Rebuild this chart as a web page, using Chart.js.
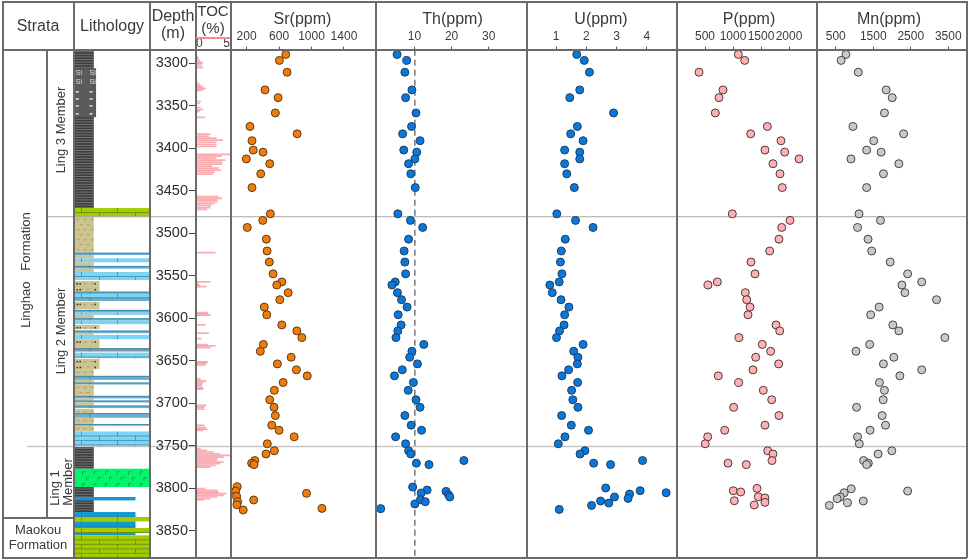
<!DOCTYPE html>
<html>
<head>
<meta charset="utf-8">
<script src="https://cdn.jsdelivr.net/npm/chart.js@4/dist/chart.umd.min.js"></script>
<style>
  html, body { margin: 0; padding: 0; background: #fff; }
  #page { position: relative; width: 969px; height: 560px; overflow: hidden; font-family: "Liberation Sans", Arial, sans-serif; color: #3a3a3a; }
  canvas { position: absolute; top: 0; }
  .rule { position: absolute; background: #6a6a6a; }
  .txt { position: absolute; white-space: nowrap; transform: translate(-50%, -50%); text-align: center; }
  .rot { transform: translate(-50%, -50%) rotate(-90deg); }
  .h16 { font-size: 16px; line-height: 17px; }
  .h13 { font-size: 13px; line-height: 15px; }
</style>
</head>
<body>
<div id="page">
  <canvas id="lith" style="left:0" width="150" height="560"></canvas>
  <canvas id="toc" style="left:150px" width="80" height="560"></canvas>
  <canvas id="sr" style="left:230px" width="146" height="560"></canvas>
  <canvas id="th" style="left:376px" width="150" height="560"></canvas>
  <canvas id="u" style="left:526px" width="151" height="560"></canvas>
  <canvas id="p" style="left:677px" width="140" height="560"></canvas>
  <canvas id="mn" style="left:817px" width="150" height="560"></canvas>

  <!-- frame -->
  <div class="rule" style="left:2px;top:1px;width:965px;height:1.5px"></div>
  <div class="rule" style="left:2px;top:49px;width:965px;height:1.5px"></div>
  <div class="rule" style="left:2px;top:557px;width:965px;height:1.5px"></div>
  <div class="rule" style="left:2px;top:517px;width:71px;height:1.5px"></div>
  <div class="rule" style="left:2px;top:1px;width:1.5px;height:557px"></div>
  <div class="rule" style="left:46px;top:50px;width:1.5px;height:467px"></div>
  <div class="rule" style="left:73px;top:1px;width:1.5px;height:557px"></div>
  <div class="rule" style="left:149px;top:1px;width:1.5px;height:557px"></div>
  <div class="rule" style="left:195px;top:1px;width:1.5px;height:557px"></div>
  <div class="rule" style="left:230px;top:1px;width:1.5px;height:557px"></div>
  <div class="rule" style="left:375px;top:1px;width:1.5px;height:557px"></div>
  <div class="rule" style="left:526px;top:1px;width:1.5px;height:557px"></div>
  <div class="rule" style="left:676px;top:1px;width:1.5px;height:557px"></div>
  <div class="rule" style="left:816px;top:1px;width:1.5px;height:557px"></div>
  <div class="rule" style="left:966px;top:1px;width:1.5px;height:557px"></div>
  <div style="position:absolute;left:196px;top:37px;width:34px;height:1.5px;background:#f58a92"></div>

  <!-- headers -->
  <div class="txt h16" style="left:38px;top:25px">Strata</div>
  <div class="txt h16" style="left:112px;top:25px">Lithology</div>
  <div class="txt h16" style="left:173px;top:24px">Depth<br>(m)</div>
  <div class="txt h16" style="left:213px;top:19px;font-size:15px">TOC<br>(%)</div>
  <div class="txt h16" style="left:302.5px;top:17.5px">Sr(ppm)</div>
  <div class="txt h16" style="left:452.5px;top:17.5px">Th(ppm)</div>
  <div class="txt h16" style="left:601px;top:17.5px">U(ppm)</div>
  <div class="txt h16" style="left:749px;top:17.5px">P(ppm)</div>
  <div class="txt h16" style="left:889px;top:17.5px">Mn(ppm)</div>

  <!-- strata -->
  <div class="txt h13 rot" style="left:25px;top:270px">Linghao&nbsp;&nbsp;&nbsp;Formation</div>
  <div class="txt h13 rot" style="left:60px;top:130px">Ling 3 Member</div>
  <div class="txt h13 rot" style="left:60px;top:331px">Ling 2 Member</div>
  <div class="txt h13 rot" style="left:54px;top:488px">Ling 1</div>
  <div class="txt h13 rot" style="left:67px;top:482px">Member</div>
  <div class="txt h13" style="left:38px;top:537px;line-height:15px">Maokou<br>Formation</div>
</div>

<script>
// depth axis
const depthMin = 3284.1
const depthMax = 3881.7
const depthTicks = [3300, 3350, 3400, 3450, 3500, 3550, 3600, 3650, 3700, 3750, 3800, 3850]
const memberBounds = [3480.6, 3750.8]

// samples above 3775 m share depths across the columns
const depthUpper = [3289.7, 3296.7, 3310.6, 3331.4, 3340.5, 3358.5, 3374.4, 3383.1, 3391.2, 3402.2, 3404.6, 3412.6, 3418.2, 3430.1, 3446.3, 3477.2, 3484.9, 3493.2, 3507, 3520.9, 3533.9, 3547.8, 3557.3, 3560.9, 3569.9, 3578.2, 3586.9, 3595.9, 3607.9, 3614.9, 3622.8, 3630.8, 3638.9, 3645.9, 3653.7, 3660.7, 3667.8, 3675.6, 3684.8, 3695.9, 3704.8, 3714.5, 3725.8, 3731.8, 3739.5, 3747.7, 3755.9, 3759.7, 3767.4, 3770.5, 3772.2]

const srUpper = [683, 604, 699, 427, 588, 554, 241, 823, 266, 282, 402, 196, 485, 374, 266, 493, 399, 208, 443, 452, 480, 526, 634, 572, 712, 609, 418, 448, 634, 819, 881, 406, 369, 749, 579, 814, 947, 650, 542, 485, 538, 554, 510, 600, 786, 455, 542, 439, 300, 262, 291]
const srLowerDepth = [3798.2, 3803.3, 3806, 3809.6, 3813.8, 3815.8, 3819.4, 3823.7, 3825.6]
const srLower = [84, 64, 938, 77, 287, 89, 80, 1129, 158]

const thUpper = [5.3, 7.9, 7.4, 9.3, 7.6, 10.4, 9.2, 6.8, 11.5, 7.1, 10.6, 10.1, 8.4, 9.0, 10.2, 5.5, 8.9, 12.2, 8.4, 7.2, 7.4, 7.6, 4.8, 3.9, 5.4, 6.5, 8.0, 5.6, 6.4, 5.5, 5.0, 12.5, 9.3, 8.7, 10.8, 6.7, 4.6, 9.7, 8.3, 10.4, 11.5, 7.4, 9.1, 11.9, 4.9, 7.6, 8.4, 9.0, 23.3, 10.5, 13.9]
const thLowerDepth = [3798.6, 3802.1, 3803.7, 3805.6, 3807.9, 3810.3, 3813.5, 3815.8, 3818.5, 3824]
const thLower = [9.5, 13.4, 18.5, 11.8, 19.2, 19.5, 11.6, 12.9, 10.1, 0.9]
const thBaseline = 10.1

const uUpper = [1.68, 1.93, 2.10, 1.78, 1.45, 2.90, 1.70, 1.48, 1.89, 1.28, 1.78, 1.78, 1.28, 1.35, 1.60, 1.02, 1.64, 2.22, 1.30, 1.17, 1.14, 1.19, 1.10, 0.79, 0.87, 1.16, 1.42, 1.28, 1.26, 1.11, 1.01, 1.89, 1.58, 1.72, 1.70, 1.41, 1.19, 1.71, 1.51, 1.55, 1.72, 1.18, 1.50, 2.07, 1.29, 1.07, 1.95, 1.79, 3.86, 2.24, 2.80]
const uLowerDepth = [3799.7, 3802.9, 3805.3, 3806.8, 3810.3, 3812, 3815, 3817.4, 3820.2, 3824.9]
const uLower = [2.64, 3.78, 4.64, 3.43, 2.93, 3.38, 2.47, 2.74, 2.17, 1.10]

const pUpper = [1095, 1209, 393, 821, 750, 684, 1613, 1316, 1857, 1571, 1923, 2179, 1714, 1839, 1880, 988, 2018, 1870, 1821, 1655, 1321, 1393, 720, 554, 1220, 1245, 1304, 1268, 1768, 1834, 1107, 1523, 1673, 1405, 1816, 1357, 737, 1102, 1541, 1691, 1012, 1821, 1571, 852, 548, 505, 1620, 1714, 1696, 911, 1237]
const pLowerDepth = [3800.2, 3802.9, 3804.4, 3810, 3811.5, 3814.7, 3816.6, 3819.7]
const pLower = [1429, 1005, 1138, 1452, 1571, 1023, 1571, 1380]

const mnUpper = [771, 644, 1101, 1845, 2006, 1799, 959, 2309, 1512, 1324, 1710, 905, 2183, 1772, 1324, 1120, 1692, 1082, 1361, 1458, 1952, 2417, 2792, 2264, 2344, 3187, 1657, 1431, 2022, 2183, 3410, 1404, 1039, 2049, 1772, 2792, 2210, 1665, 1799, 1764, 1055, 1737, 1826, 1415, 1082, 1128, 1995, 1630, 1243, 1369, 1324]
const mnLowerDepth = [3800.6, 3803.3, 3805.3, 3810.3, 3812.3, 3815, 3817, 3820.2]
const mnLower = [913, 2417, 725, 618, 537, 1235, 814, 330]

// TOC log
const tocDepth = [3291.8, 3294.1, 3296.5, 3298.8, 3300.4, 3302.7, 3305.1, 3322.7, 3324.7, 3326.2, 3328.2, 3329.7, 3331.3, 3332.5, 3345, 3347.4, 3352.1, 3354.4, 3356, 3357.6, 3363.8, 3383.4, 3385.8, 3388.1, 3390.5, 3393.2, 3395.6, 3398, 3407.3, 3409.3, 3411.6, 3414, 3416.3, 3418.7, 3421, 3423.4, 3425.7, 3428.1, 3430.4, 3457, 3459, 3461, 3463.3, 3465.3, 3467.6, 3470, 3472, 3522.8, 3557.3, 3559.7, 3561.2, 3562.8, 3593.3, 3594.9, 3596.5, 3607.8, 3617.6, 3623.9, 3630.9, 3632.5, 3634.5, 3651.3, 3652.9, 3654.8, 3671.7, 3673.6, 3675.6, 3677.6, 3679.5, 3681.9, 3683.4, 3702.6, 3704.6, 3706.9, 3726.1, 3728.5, 3730.4, 3732, 3753.5, 3755.5, 3757.4, 3759.4, 3761.4, 3763.3, 3765.3, 3767.2, 3769.2, 3771.2, 3773.1, 3775.1, 3800.5, 3802.5, 3804.5, 3806.4, 3808.4, 3810.3, 3812.3, 3813.5]
const tocValue = [0.24, 0.39, 0.53, 0.87, 1.02, 0.83, 1.02, 0.29, 0.53, 0.73, 1.02, 1.46, 1.02, 0.39, 0.73, 0.53, 0.63, 1.02, 0.53, 0.24, 1.26, 2.09, 1.84, 2.96, 3.93, 2.96, 2.96, 2.96, 5.0, 3.79, 2.96, 4.27, 3.79, 3.79, 2.33, 3.3, 3.64, 2.67, 2.48, 3.3, 3.79, 3.15, 3.06, 2.67, 2.18, 2.09, 1.6, 2.82, 2.09, 0.39, 0.53, 1.5, 1.7, 1.84, 2.18, 1.36, 1.84, 0.78, 1.7, 2.82, 2.09, 1.7, 1.6, 1.36, 0.63, 1.46, 1.02, 0.92, 0.83, 1.02, 1.02, 1.46, 1.2, 1.2, 1.2, 1.46, 1.6, 1.02, 0.63, 1.6, 2.57, 3.54, 5.0, 4.03, 3.16, 3.06, 4.03, 3.54, 2.82, 2.09, 1.36, 3.16, 3.3, 4.42, 4.03, 3.06, 2.09, 1.1]

// lithology column: top, base, width in percent of the column, rock type
const lithTop = [3284.1, 3305.9, 3470.4, 3480.6, 3522.9, 3525.6, 3529.5, 3534.2, 3538.5, 3541.7, 3545.6, 3556.2, 3568.7, 3571.4, 3575.3, 3580.5, 3590.2, 3593.4, 3596.1, 3600, 3602.8, 3607.9, 3614.5, 3617.6, 3619.6, 3624.7, 3635.2, 3640.4, 3647.8, 3659.9, 3667.8, 3672.5, 3675.6, 3678, 3691.3, 3694.4, 3696.8, 3699.1, 3702.7, 3706.6, 3711.6, 3717.1, 3724.5, 3726.5, 3733.2, 3750.8, 3777, 3798.6, 3810.3, 3828, 3833.8, 3839, 3846.8, 3852.6, 3855.4]
const lithBase = [3470.4, 3363.5, 3480.6, 3522.9, 3525.6, 3529.5, 3534.2, 3538.5, 3541.7, 3545.6, 3555, 3568.7, 3571.4, 3575.3, 3579.7, 3589.4, 3593.4, 3596.1, 3600, 3602.8, 3607, 3612.9, 3617.6, 3619.6, 3624.7, 3635.2, 3639.2, 3647, 3659.9, 3667.8, 3672.5, 3675.6, 3678, 3691.3, 3694.4, 3696.8, 3699.1, 3702.7, 3705.7, 3711.6, 3717.1, 3724.5, 3726.5, 3733.2, 3750.8, 3777, 3798.6, 3828, 3814.3, 3833.8, 3839, 3846.8, 3852.6, 3855.4, 3881.7]
const lithWidth = [26.5, 29.5, 100, 26.5, 100, 26.5, 100, 26.5, 100, 26.5, 100, 34, 100, 100, 100, 34, 100, 100, 26.5, 100, 100, 34, 100, 26.5, 100, 34, 100, 100, 34, 26.5, 100, 26.5, 100, 26.5, 100, 26.5, 100, 26.5, 100, 26.5, 100, 26.5, 100, 26.5, 100, 26.5, 100, 26.5, 81, 81, 100, 81, 100, 81, 100]
const lithType = ['shale', 'siliceous', 'olive', 'tan', 'steel', 'tan', 'sky', 'tan', 'steel', 'tan', 'sky', 'silt', 'steel', 'sky', 'steel', 'silt', 'steel', 'sky', 'tan', 'steel', 'sky', 'silt', 'steel', 'tan', 'sky', 'silt', 'slate', 'sky', 'silt', 'tan', 'steel', 'tan', 'steel', 'tan', 'steel', 'tan', 'steel', 'tan', 'steel', 'tan', 'steel', 'tan', 'steel', 'tan', 'sky', 'shale', 'emerald', 'shale', 'deep', 'deep', 'olive', 'deep', 'olive', 'deep', 'olive']
const siRows = [3311.8, 3322.3]
const dotRows = [3334, 3342.3, 3350.5, 3359.9]

const lithFill = {
    shale: '#3e3c3e', siliceous: '#5c5a5c', olive: '#a2cc00', tan: '#cfc48e', silt: '#cfc48e',
    steel: '#6aaed0', sky: '#7fd4f2', slate: '#7e98a6', emerald: '#00f56c', deep: '#0f9ad6'
}

function drawRock(ctx, type, x0, x1, y0, y1) {
    ctx.fillStyle = lithFill[type]
    ctx.fillRect(x0, y0, x1 - x0, y1 - y0)
    ctx.lineWidth = 0.7
    if (type === 'shale') {
        ctx.strokeStyle = '#8c8c8c'
        for (let y = y0 + 2; y < y1; y += 2.6) line(ctx, x0, y, x1, y)
    } else if (type === 'tan' || type === 'silt') {
        ctx.strokeStyle = '#8f8c70'
        for (let y = y0 + 3, r = 0; y < y1 - 1; y += 5, r++) {
            for (let x = x0 + 3 + (r % 2) * 3; x < x1 - 3; x += 7) line(ctx, x, y, x + 3, y)
        }
        if (type === 'silt') {
            ctx.fillStyle = '#333'
            for (let y = y0 + 2; y < y1 - 1; y += 6) {
                ctx.fillRect(x0 + 3, y, 1.5, 1.5)
                ctx.fillRect(x0 + 6, y, 1.5, 1.5)
                ctx.fillRect(x1 - 5, y, 1.5, 1.5)
            }
        }
    } else if (type === 'sky' || type === 'olive' || type === 'deep') {
        ctx.strokeStyle = type === 'olive' ? '#5e7d10' : '#2f7fa6'
        for (let y = y0 + 4.5; y < y1; y += 4.5) line(ctx, x0, y, x1, y)
        let r = 0
        for (let y = y0; y < y1; y += 4.5, r++) {
            for (let x = x0 + 8 + (r % 2) * 18; x < x1; x += 36) line(ctx, x, y, x, Math.min(y + 4.5, y1))
        }
    } else if (type === 'steel' || type === 'slate') {
        ctx.strokeStyle = '#34799c'
        line(ctx, x0, y0 + 0.5, x1, y0 + 0.5)
        line(ctx, x1 - 60, y0, x1 - 60, y1)
    } else if (type === 'emerald') {
        ctx.strokeStyle = '#2f7f4a'
        let r = 0
        for (let y = y0 + 3; y < y1 - 2; y += 6, r++) {
            for (let x = x0 + 9 + (r % 2) * 4; x < x1 - 5; x += 11.5) {
                line(ctx, x, y, x + 3, y)
                line(ctx, x, y, x, y + 3)
            }
        }
    }
}

function line(ctx, x0, y0, x1, y1) {
    ctx.beginPath()
    ctx.moveTo(x0, y0)
    ctx.lineTo(x1, y1)
    ctx.stroke()
}

function drawBounds(chart, from) {
    const ctx = chart.ctx
    ctx.save()
    memberBounds.forEach((d, i) => {
        ctx.strokeStyle = i === 0 ? '#a8a8a8' : '#c6c6c6'
        ctx.lineWidth = i === 0 ? 1 : 1.6
        line(ctx, i === 0 ? from[0] : from[1], chart.scales.y.getPixelForValue(d), chart.width, chart.scales.y.getPixelForValue(d))
    })
    ctx.restore()
}

const boundPlugin = { id: 'bounds', beforeDraw: chart => drawBounds(chart, [0, 0]) }

const lithPlugin = {
    id: 'lithology',
    afterDatasetsDraw(chart) {
        const ctx = chart.ctx
        const { x, y } = chart.scales
        ctx.save()
        lithTop.forEach((top, i) => {
            drawRock(ctx, lithType[i], x.getPixelForValue(0), x.getPixelForValue(lithWidth[i]), y.getPixelForValue(top), y.getPixelForValue(lithBase[i]))
        })
        ctx.fillStyle = '#e0e0e0'
        ctx.font = '7px "Liberation Sans"'
        ctx.textBaseline = 'middle'
        siRows.forEach(d => {
            ctx.fillText('Si', x.getPixelForValue(3), y.getPixelForValue(d))
            ctx.fillText('Si', x.getPixelForValue(21), y.getPixelForValue(d))
        })
        dotRows.forEach(d => {
            ctx.fillRect(x.getPixelForValue(3), y.getPixelForValue(d) - 1, 3, 1.5)
            ctx.fillRect(x.getPixelForValue(21), y.getPixelForValue(d) - 1, 3, 1.5)
        })
        ctx.restore()
        drawBounds(chart, [46, 27])
    }
}

const depthScale = {
    type: 'linear', reverse: true, min: depthMin, max: depthMax, display: false, offset: false,
    grid: { display: false, offset: false }
}

const plainLabel = v => String(v)

function fixHeight(s) {
    s.height = 49.7
    s.paddingLeft = 0
    s.paddingRight = 0
}

function topAxis(min, max, tickValues, extra) {
    return Object.assign({
        type: 'linear', position: 'top', min: min, max: max, offset: false,
        afterBuildTicks: s => { s.ticks = tickValues.map(v => ({ value: v })) },
        afterFit: fixHeight,
        border: { display: false },
        grid: { drawOnChartArea: false, offset: false, tickLength: 3, tickColor: '#555', tickWidth: 1 },
        ticks: { callback: plainLabel, autoSkip: false, maxRotation: 0, padding: 3, color: '#3a3a3a', font: { size: 12, family: '"Liberation Sans"' } }
    }, extra)
}

function baseOptions() {
    return {
        responsive: false,
        animation: false,
        devicePixelRatio: 1,
        layout: { autoPadding: false, padding: { bottom: 2.3 } },
        plugins: { legend: { display: false }, tooltip: { enabled: false } }
    }
}

function pairs(xs, ys) {
    return xs.map((v, i) => ({ x: v, y: ys[i] }))
}

function scatterPanel(id, name, values, lowerValues, lowerDepth, fill, stroke, min, max, tickValues, extraSets) {
    const data = pairs(values.concat(lowerValues), depthUpper.concat(lowerDepth))
    const options = baseOptions()
    options.scales = { x: topAxis(min, max, tickValues), y: depthScale }
    new Chart(document.getElementById(id), {
        type: 'scatter',
        data: {
            datasets: [{
                label: name, data: data, clip: false, pointRadius: 4, borderWidth: 1,
                backgroundColor: fill, borderColor: stroke
            }].concat(extraSets || [])
        },
        options: options,
        plugins: [boundPlugin]
    })
}

// lithology column
const lithOptions = baseOptions()
lithOptions.layout.padding = { top: 49.7, bottom: 2.3, left: 73.5 }
lithOptions.scales = {
    x: { type: 'linear', min: 0, max: 100, display: false },
    y: depthScale
}
new Chart(document.getElementById('lith'), {
    type: 'scatter',
    data: { datasets: [{ label: 'Lithology', data: [] }] },
    options: lithOptions,
    plugins: [lithPlugin]
})

// TOC log, carries the depth axis
const tocOptions = baseOptions()
tocOptions.indexAxis = 'y'
tocOptions.scales = {
    x: topAxis(0, 5, [0, 5], {
        grid: { display: false, drawTicks: false, offset: false },
        ticks: { callback: plainLabel, autoSkip: false, maxRotation: 0, align: 'inner', padding: -1, color: '#3a3a3a', font: { size: 12, family: '"Liberation Sans"' } }
    }),
    y: {
        type: 'linear', position: 'left', reverse: true, min: depthMin, max: depthMax, offset: false,
        afterBuildTicks: s => { s.ticks = depthTicks.map(v => ({ value: v })) },
        afterFit: s => {
            s.width = 46
            s.paddingTop = 0
            s.paddingBottom = 0
        },
        border: { display: false },
        grid: { drawOnChartArea: false, offset: false, tickLength: 7, tickColor: '#444', tickWidth: 1 },
        ticks: { callback: plainLabel, padding: 1, color: '#2e2e2e', font: { size: 14.5, family: '"Liberation Sans"' } }
    }
}
new Chart(document.getElementById('toc'), {
    type: 'bar',
    data: {
        datasets: [{
            label: 'TOC', data: pairs(tocValue, tocDepth), barThickness: 1,
            backgroundColor: 'rgba(248, 120, 130, 0.62)'
        }]
    },
    options: tocOptions,
    plugins: [boundPlugin]
})

scatterPanel('sr', 'Sr', srUpper, srLower, srLowerDepth, '#f07c0e', '#5c3a12', -5, 1795, [200, 600, 1000, 1400])
scatterPanel('th', 'Th', thUpper, thLower, thLowerDepth, '#0a78d8', '#1c3f63', -0.38, 40.05, [10, 20, 30], [{
    label: 'Baseline', showLine: true, pointRadius: 0, borderColor: '#555', borderWidth: 1.2, borderDash: [6, 4],
    data: [{ x: thBaseline, y: depthMin }, { x: thBaseline, y: depthMax }]
}])
scatterPanel('u', 'U', uUpper, uLower, uLowerDepth, '#0a78d8', '#1c3f63', 0, 5, [1, 2, 3, 4])
scatterPanel('p', 'P', pUpper, pLower, pLowerDepth, '#ffb0b2', '#4a3a3a', 0, 2500, [500, 1000, 1500, 2000])
scatterPanel('mn', 'Mn', mnUpper, mnLower, mnLowerDepth, '#c9c9c9', '#444', 0, 4000, [500, 1500, 2500, 3500])
</script>
</body>
</html>
